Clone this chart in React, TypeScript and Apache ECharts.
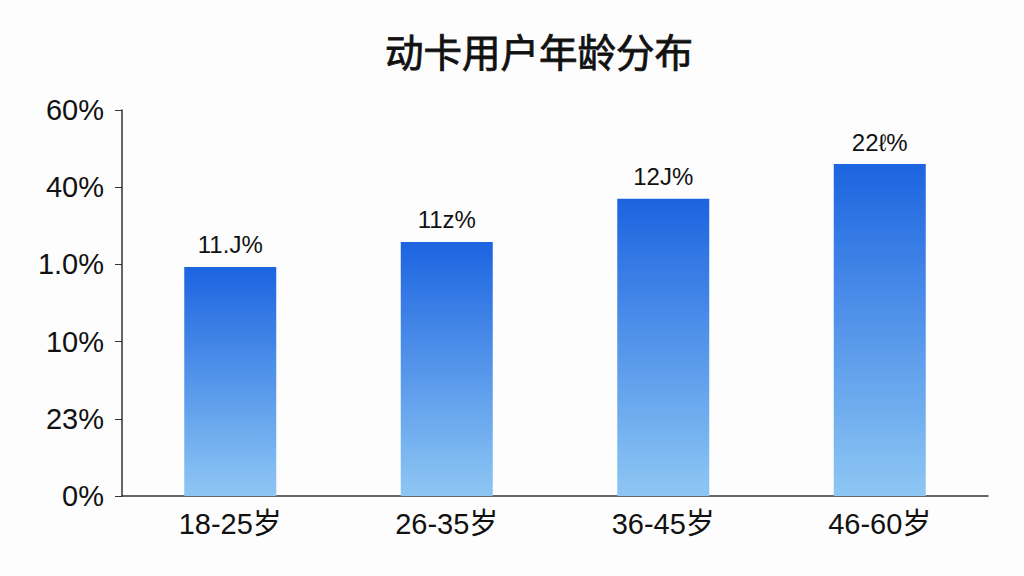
import React, { useEffect, useRef } from "react";
import * as echarts from "echarts";

// age groups and share values
const ageGroups = ["18-25岁", "26-35岁", "36-45岁", "46-60岁"];
const shareValues = [35.6, 39.5, 46.2, 51.6];
const barLabels = ["11.J%", "11z%", "12J%", "22ℓ%"];
// tick labels as printed on the y axis, bottom to top
const yTickLabels = ["0%", "23%", "10%", "1.0%", "40%", "60%"];

const App = () => {
  const chartRef = useRef<HTMLDivElement>(null);

  useEffect(() => {
    if (!chartRef.current) return;
    const chart = echarts.init(chartRef.current, undefined, { renderer: "svg" });

    const option = {
      animation: false,
      backgroundColor: "#fdfdfd",
      title: {
        text: "动卡用户年龄分布",
        left: 380,
        top: 26,
        textStyle: {
          fontFamily: "Noto Sans CJK SC",
          fontSize: 38.5,
          fontWeight: "normal",
          color: "#111",
          textBorderColor: "#111",
          textBorderWidth: 0.8,
        },
      },
      grid: { left: 122, right: 36, top: 110, bottom: 80 },
      xAxis: {
        type: "category",
        data: ageGroups,
        axisLine: { lineStyle: { color: "#333", width: 1.5 } },
        axisTick: { alignWithLabel: true, length: 6, lineStyle: { color: "#333" } },
        axisLabel: {
          margin: 13,
          fontSize: 29,
          color: "#111",
          fontFamily: "Liberation Sans, Noto Sans CJK SC",
        },
      },
      yAxis: {
        type: "value",
        min: 0,
        max: 60,
        interval: 12,
        axisLine: { show: true, lineStyle: { color: "#333", width: 1.5 } },
        axisTick: { show: true, length: 7, lineStyle: { color: "#333" } },
        splitLine: { show: false },
        axisLabel: {
          margin: 18,
          fontSize: 29,
          color: "#111",
          fontFamily: "Liberation Sans",
          formatter: (_v: number, idx: number) => yTickLabels[idx] ?? "",
        },
      },
      series: [
        {
          type: "bar",
          barWidth: 92,
          data: shareValues.map((v, i) => ({ value: v, labelText: barLabels[i] })),
          itemStyle: {
            color: new echarts.graphic.LinearGradient(0, 0, 0, 1, [
              { offset: 0, color: "#1c64e0" },
              { offset: 1, color: "#8ec7f4" },
            ]),
          },
          label: {
            show: true,
            position: "top",
            distance: 10,
            fontSize: 24,
            color: "#111",
            fontFamily: "Liberation Sans",
            formatter: (params: any) => params.data.labelText,
          },
        },
      ],
    };

    chart.setOption(option);

    return () => {
      chart.dispose();
    };
  }, []);

  return (
    <div
      ref={chartRef}
      style={{ position: "absolute", left: 0, top: 0, width: "1024px", height: "576px" }}
    ></div>
  );
};

export default App;
